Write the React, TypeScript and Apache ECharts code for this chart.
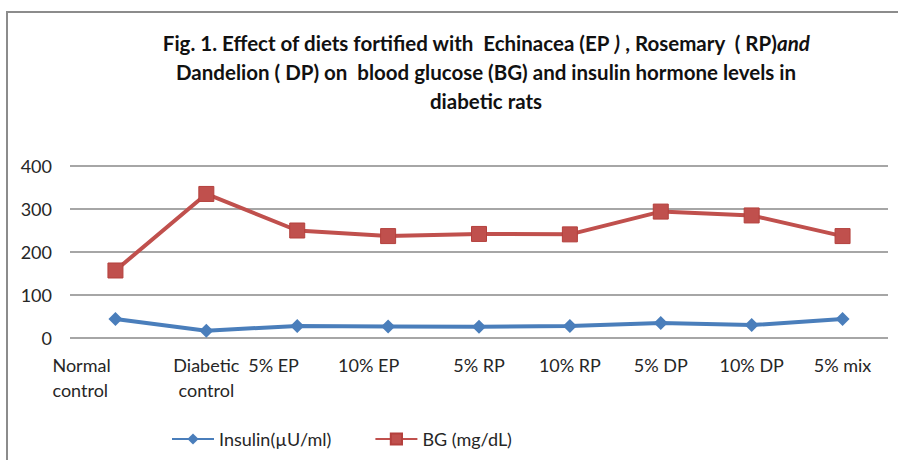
import React, { useEffect, useRef } from "react";
import * as echarts from "echarts";

const categories = [
  "Normal control",
  "Diabetic control",
  "5% EP",
  "10% EP",
  "5% RP",
  "10% RP",
  "5% DP",
  "10% DP",
  "5% mix",
];
const insulin = [44, 17, 28, 27, 26, 28, 35, 30, 44];
const bg = [157, 335, 250, 237, 242, 241, 294, 285, 237];
const yTicks = { min: 0, max: 400, interval: 100 };

const FONT = "Lato, 'Open Sans', sans-serif";
const TEXT = "#262626";
const AX = 18;

export default function App() {
  const ref = useRef<HTMLDivElement>(null);
  useEffect(() => {
    if (!ref.current) return;
    const chart = echarts.init(ref.current, undefined, { renderer: "svg" });
    chart.setOption({
      animation: false,
      backgroundColor: "#ffffff",
      textStyle: { fontFamily: FONT },
      title: {
        left: 481,
        top: 23,
        textAlign: "center",
        text:
          "{b|Fig. 1. Effect of diets fortified with  Echinacea (EP }{bi|)}{b| , Rosemary  ( RP)}{bi|and}\n" +
          "{b|Dandelion ( DP) on  blood glucose (BG) and insulin hormone levels in}\n" +
          "{b|diabetic rats}",
        textStyle: {
          rich: {
            b: { fontFamily: FONT, fontSize: 20.5, fontWeight: "bold", color: "#111", lineHeight: 29 },
            bi: { fontFamily: FONT, fontSize: 20.5, fontWeight: "bold", fontStyle: "italic", color: "#111", lineHeight: 29 },
          },
        },
      },
      graphic: [
        {
          type: "rect",
          shape: { x: 7, y: 12, width: 900, height: 460 },
          style: { fill: "none", stroke: "#8c8c8c", lineWidth: 2 },
          silent: true,
        },
      ],
      legend: {
        left: 166,
        top: 425,
        itemWidth: 42,
        itemHeight: 14,
        itemGap: 43,
        data: ["Insulin(µU/ml)", "BG (mg/dL)"],
        textStyle: { fontFamily: FONT, fontSize: 18, color: TEXT },
      },
      grid: { left: 70, right: 10, top: 166, bottom: 122, containLabel: false },
      xAxis: {
        type: "category",
        data: categories,
        boundaryGap: true,
        axisLine: { show: false },
        axisTick: { show: false },
        axisLabel: {
          interval: 0,
          margin: 14,
          color: TEXT,
          fontSize: AX,
          fontFamily: FONT,
          lineHeight: 25,
          formatter: (v: string, i: number) => {
            const parts = v.split(" ");
            if (i === 0) return `{n0|${parts[0]}}\n{n0|${parts[1]}}`;
            if (i === 1) return `{c|${parts[0]}}\n{c|${parts[1]}}`;
            if (i === 2) return `{e5|${v}}`;
            if (i === 3) return `{e10|${v}}`;
            return `{c|${v}}`;
          },
          rich: {
            n0: { width: 126, align: "left", fontSize: AX, fontFamily: FONT, color: TEXT, lineHeight: 25 },
            c: { align: "center", fontSize: AX, fontFamily: FONT, color: TEXT, lineHeight: 25 },
            e5: { width: 98, align: "left", fontSize: AX, fontFamily: FONT, color: TEXT, lineHeight: 25 },
            e10: { width: 100, align: "left", fontSize: AX, fontFamily: FONT, color: TEXT, lineHeight: 25 },
          },
        },
      },
      yAxis: {
        type: "value",
        min: yTicks.min,
        max: yTicks.max,
        interval: yTicks.interval,
        axisLine: { show: false },
        axisTick: { show: false },
        axisLabel: { color: TEXT, fontSize: AX, fontFamily: FONT, margin: 18 },
        splitLine: { lineStyle: { color: "#888888", width: 1.5 } },
      },
      series: [
        {
          name: "Insulin(µU/ml)",
          type: "line",
          data: insulin,
          symbol: "diamond",
          symbolSize: 14,
          lineStyle: { color: "#4A7EBB", width: 4 },
          itemStyle: { color: "#4A7EBB" },
        },
        {
          name: "BG (mg/dL)",
          type: "line",
          data: bg,
          symbol: "rect",
          symbolSize: 15,
          lineStyle: { color: "#C0504D", width: 4 },
          itemStyle: { color: "#C0504D", borderColor: "#B4403D", borderWidth: 1 },
        },
      ],
    });
    return () => chart.dispose();
  }, []);
  return (
    <div
      ref={ref}
      style={{ position: "fixed", left: 0, top: 0, width: 898, height: 460 }}
    />
  );
}
